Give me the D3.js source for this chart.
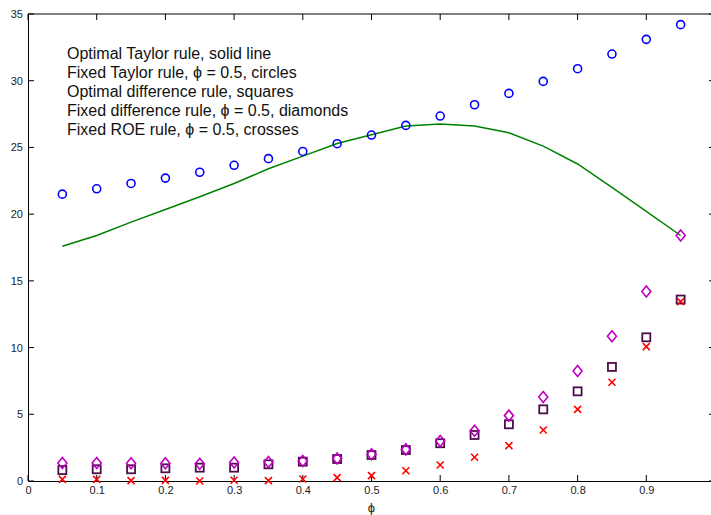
<!DOCTYPE html>
<html><head><meta charset="utf-8">
<script src="https://cdn.jsdelivr.net/npm/d3@7"></script>
<style>
html,body{margin:0;padding:0;background:#fff;}
svg{display:block;}
text{font-family:"Liberation Sans",Arial,Helvetica,sans-serif;}
</style></head>
<body>
<svg id="c" width="711" height="515"></svg>
<script>
const phi = [0.05,0.10,0.15,0.20,0.25,0.30,0.35,0.40,0.45,0.50,0.55,0.60,0.65,0.70,0.75,0.80,0.85,0.90,0.95];
const optimalTaylor = [17.6,18.4,19.4,20.35,21.3,22.3,23.4,24.35,25.3,25.95,26.6,26.75,26.6,26.1,25.1,23.76,22.0,20.2,18.4];
const fixedTaylor = [21.5,21.9,22.3,22.7,23.14,23.66,24.16,24.7,25.28,25.93,26.65,27.35,28.2,29.05,29.95,30.9,32.0,33.1,34.2];
const optimalDifference = [0.82,0.88,0.88,0.95,1.0,1.0,1.25,1.45,1.65,1.95,2.32,2.83,3.45,4.25,5.37,6.72,8.55,10.77,13.6];
const fixedDifference = [1.35,1.35,1.33,1.33,1.3,1.38,1.42,1.5,1.68,2.0,2.37,3.0,3.77,4.9,6.3,8.25,10.85,14.2,18.4];
const fixedROE = [0.12,0.12,0.03,0.05,0.0,0.06,0.03,0.15,0.25,0.4,0.77,1.2,1.78,2.65,3.82,5.37,7.4,10.07,13.44];
const xTicks = [0,0.1,0.2,0.3,0.4,0.5,0.6,0.7,0.8,0.9];
const yTicks = [0,5,10,15,20,25,30,35];
const legendLines = [
  "Optimal Taylor rule, solid line",
  "Fixed Taylor rule, \u03D5 = 0.5, circles",
  "Optimal difference rule, squares",
  "Fixed difference rule, \u03D5 = 0.5, diamonds",
  "Fixed ROE rule, \u03D5 = 0.5, crosses"
];
const xLabel = "\u03D5";

const svg = d3.select("#c");
const x = d3.scaleLinear().domain([0,1]).range([28,715]);
const y = d3.scaleLinear().domain([0,35]).range([481,14]);

// axes (box)
const axG = svg.append("g");
const xAxis = d3.axisBottom(x).tickValues(xTicks).tickSize(0).tickPadding(5)
  .tickFormat(d => d===0 ? "0" : d3.format(".1f")(d));
const xg = axG.append("g").attr("transform",`translate(0,${y(0)})`).call(xAxis);
xg.select(".domain").attr("stroke","#000").attr("stroke-width",1);
xg.selectAll("text").attr("font-size",11).attr("fill","#222").attr("font-family","Liberation Sans, Arial, sans-serif");
const yAxis = d3.axisLeft(y).tickValues(yTicks).tickSize(0).tickPadding(5);
const yg = axG.append("g").attr("transform",`translate(${x(0)},0)`).call(yAxis);
yg.select(".domain").attr("stroke","#000").attr("stroke-width",1);
yg.selectAll("text").attr("font-size",11).attr("fill","#222").attr("font-family","Liberation Sans, Arial, sans-serif");
// top & right lines
axG.append("line").attr("x1",x(0)).attr("x2",x(1)).attr("y1",y(35)).attr("y2",y(35)).attr("stroke","#000");
axG.append("line").attr("x1",x(1)).attr("x2",x(1)).attr("y1",y(35)).attr("y2",y(0)).attr("stroke","#000");
// inward ticks
const tl = 6;
xTicks.forEach(t => {
  axG.append("line").attr("x1",x(t)).attr("x2",x(t)).attr("y1",y(0)).attr("y2",y(0)-tl).attr("stroke","#000");
  axG.append("line").attr("x1",x(t)).attr("x2",x(t)).attr("y1",y(35)).attr("y2",y(35)+tl).attr("stroke","#000");
});
yTicks.forEach(t => {
  axG.append("line").attr("x1",x(0)).attr("x2",x(0)+tl).attr("y1",y(t)).attr("y2",y(t)).attr("stroke","#000");
  axG.append("line").attr("x1",x(1)).attr("x2",x(1)-tl).attr("y1",y(t)).attr("y2",y(t)).attr("stroke","#000");
});

// x label
svg.append("text").attr("x",x(0.5)).attr("y",512).attr("text-anchor","middle")
  .attr("font-size",13).attr("fill","#222").attr("font-family","DejaVu Sans, sans-serif").text(xLabel);

// line
const line = d3.line().x((d,i)=>x(phi[i])).y(d=>y(d));
svg.append("path").datum(optimalTaylor).attr("d",line).attr("fill","none")
  .attr("stroke","#008000").attr("stroke-width",1.5);

// circles
svg.append("g").selectAll("circle").data(fixedTaylor).join("circle")
  .attr("cx",(d,i)=>x(phi[i])).attr("cy",d=>y(d)).attr("r",4)
  .attr("fill","none").attr("stroke","#0000ff").attr("stroke-width",1.6);

// squares
const sq = 4;
svg.append("g").selectAll("rect").data(optimalDifference).join("rect")
  .attr("x",(d,i)=>x(phi[i])-sq).attr("y",d=>y(d)-sq).attr("width",2*sq).attr("height",2*sq)
  .attr("fill","none").attr("stroke","#4c0d4c").attr("stroke-width",1.8);

// diamonds
const dw = 4.5, dh = 5.5;
svg.append("g").selectAll("path").data(fixedDifference).join("path")
  .attr("d",(d,i)=>{const cx=x(phi[i]), cy=y(d); return `M${cx},${cy-dh}L${cx+dw},${cy}L${cx},${cy+dh}L${cx-dw},${cy}Z`;})
  .attr("fill","none").attr("stroke","#bf00bf").attr("stroke-width",1.6);

// crosses
const cr = 3.5;
svg.append("g").selectAll("path").data(fixedROE).join("path")
  .attr("d",(d,i)=>{const cx=x(phi[i]), cy=y(d); return `M${cx-cr},${cy-cr}L${cx+cr},${cy+cr}M${cx-cr},${cy+cr}L${cx+cr},${cy-cr}`;})
  .attr("fill","none").attr("stroke","#ff0000").attr("stroke-width",1.6);

// legend text
const lg = svg.append("g");
legendLines.forEach((s,i)=>{
  lg.append("text").attr("x",67).attr("y",59+i*19).attr("font-size",16).attr("fill","#111").text(s);
});
</script>
</body></html>
